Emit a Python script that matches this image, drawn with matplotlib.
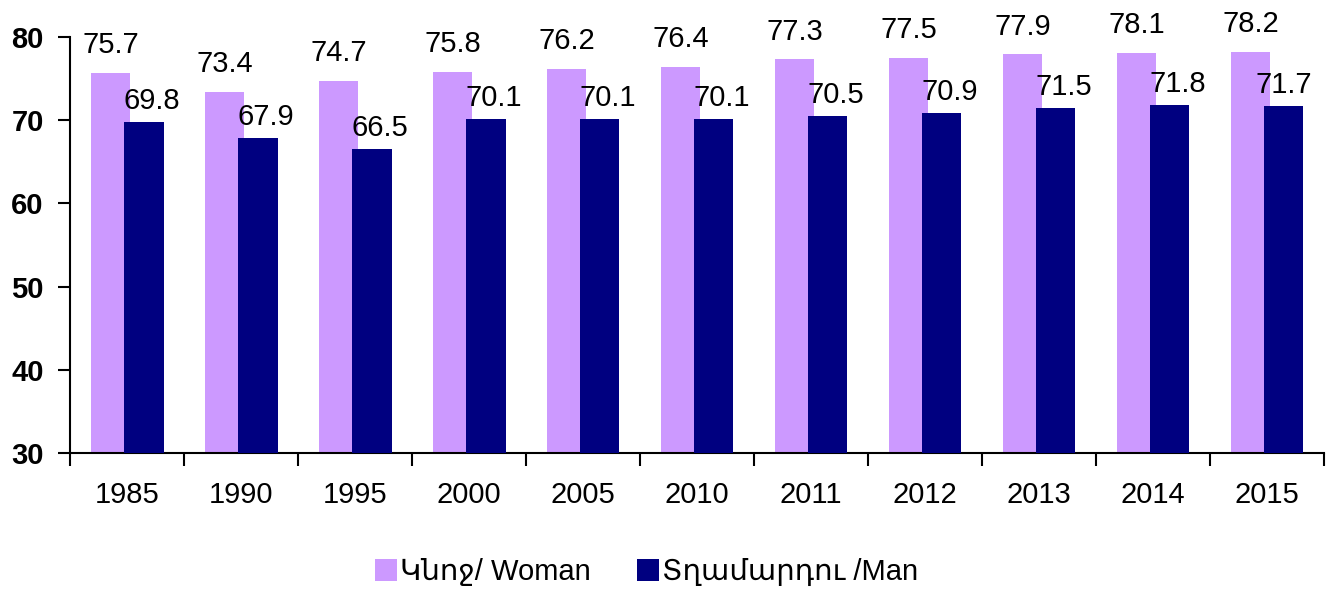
import numpy as np
import matplotlib
matplotlib.use('Agg')
import matplotlib.pyplot as plt
from matplotlib.ticker import FixedLocator

years = ['1985', '1990', '1995', '2000', '2005', '2010',
         '2011', '2012', '2013', '2014', '2015']
woman = [75.7, 73.4, 74.7, 75.8, 76.2, 76.4, 77.3, 77.5, 77.9, 78.1, 78.2]
man = [69.8, 67.9, 66.5, 70.1, 70.1, 70.1, 70.5, 70.9, 71.5, 71.8, 71.7]
labels = ['Կնոջ/ Woman', 'Տղամարդու /Man']

FONT = ['Liberation Sans', 'DejaVu Sans']
plt.rcParams['font.family'] = FONT
FS = 21

fig = plt.figure(figsize=(13.34, 5.91), dpi=100)
ax = fig.add_axes([0.0525, 0.2335, 0.94, 0.7039])

x = np.arange(len(years))
w = 0.35
off = 0.145
b1 = ax.bar(x - off, woman, w, color='#CC99FF', label=labels[0], zorder=2)
b2 = ax.bar(x + off, man, w, color='#000080', label=labels[1], zorder=3)

for i, v in enumerate(woman):
    ax.annotate(f'{v:.1f}', (x[i] - off, v), xytext=(0, 10), textcoords='offset points',
                ha='center', va='bottom', fontsize=FS, zorder=5)
for i, v in enumerate(man):
    dx = 6 if i < len(man) - 1 else 0
    ax.annotate(f'{v:.1f}', (x[i] + off, v), xytext=(dx, 5), textcoords='offset points',
                ha='center', va='bottom', fontsize=FS, zorder=5)

ax.set_ylim(30, 80)
ax.set_xlim(-0.5, len(years) - 0.5)
ax.set_yticks([30, 40, 50, 60, 70, 80])
ax.set_yticklabels(['30', '40', '50', '60', '70', '80'], fontsize=FS, fontweight='bold')
ax.tick_params(axis='y', length=9, width=1.5, pad=10, direction='out')

ax.set_xticks(x)
ax.set_xticklabels(years, fontsize=FS)
ax.tick_params(axis='x', which='major', length=0, pad=20)
ax.xaxis.set_minor_locator(FixedLocator(np.arange(-0.5, len(years), 1.0)))
ax.tick_params(axis='x', which='minor', length=9, width=1.5, direction='out')

for s in ['top', 'right']:
    ax.spines[s].set_visible(False)
for s in ['left', 'bottom']:
    ax.spines[s].set_linewidth(1.5)

leg = fig.legend(handles=[b1, b2], labels=labels, loc='center', bbox_to_anchor=(0.4845, 0.032),
                 ncol=2, frameon=False, fontsize=FS, handlelength=0.75, handleheight=0.75,
                 handletextpad=0.1, columnspacing=1.6)

fig.savefig('out.png', dpi=100)
